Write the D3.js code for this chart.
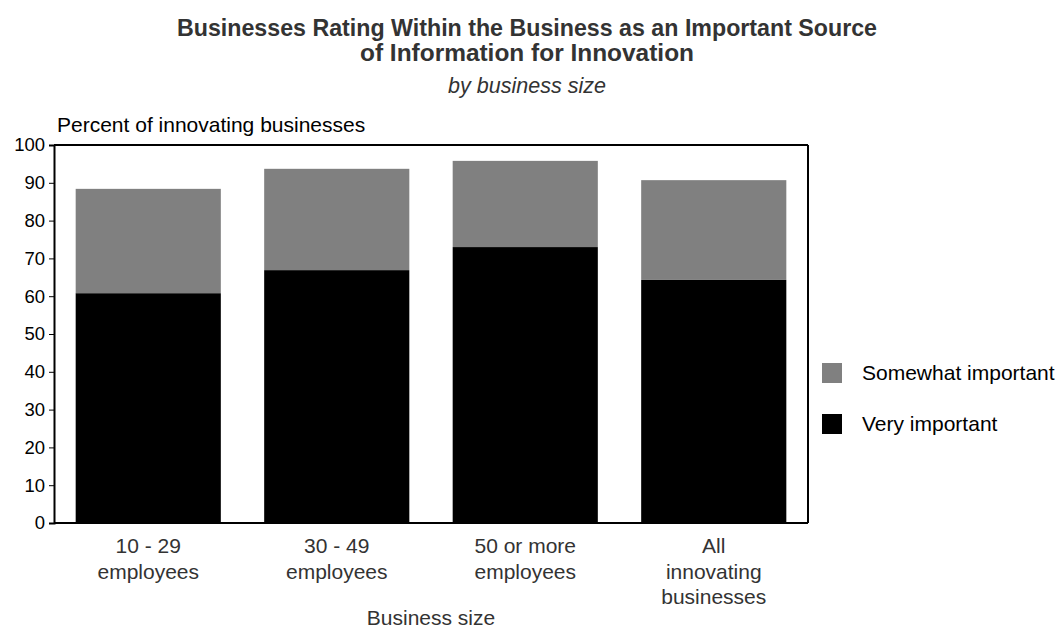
<!DOCTYPE html>
<html><head><meta charset="utf-8">
<script src="https://cdn.jsdelivr.net/npm/d3@7"></script>
<style>body{margin:0;background:#fff}svg{display:block}</style>
</head><body>
<script>
const categories = [["10 - 29","employees"],["30 - 49","employees"],["50 or more","employees"],["All","innovating","businesses"]];
const veryImportant = [60.8, 66.9, 73.0, 64.3];
const somewhatImportant = [27.6, 26.8, 22.8, 26.4];
const seriesNames = ["Somewhat important","Very important"];
const yTicks = [0,10,20,30,40,50,60,70,80,90,100];

const W=1064,H=630;
const m={l:54,r:256,t:145,b:107};
const svg=d3.select("body").append("svg").attr("width",W).attr("height",H);
const pw=W-m.l-m.r, ph=H-m.t-m.b;
const x=d3.scaleBand().domain(d3.range(categories.length)).range([m.l,m.l+pw]).paddingInner(0.23).paddingOuter(0.115);
const y=d3.scaleLinear().domain([0,100]).range([m.t+ph,m.t]);
const font="'Liberation Sans', Arial, sans-serif";

// titles
const tf="'Liberation Sans Narrow', 'Arial Narrow', 'Liberation Sans', sans-serif";
svg.append("text").attr("x",527).attr("y",36).attr("text-anchor","middle")
  .attr("font-family",tf).attr("font-weight","bold").attr("font-size",24).attr("fill","#333")
  .attr("textLength",700).attr("lengthAdjust","spacingAndGlyphs")
  .text("Businesses Rating Within the Business as an Important Source");
svg.append("text").attr("x",527).attr("y",61).attr("text-anchor","middle")
  .attr("font-family",tf).attr("font-weight","bold").attr("font-size",24).attr("fill","#333")
  .attr("textLength",334).attr("lengthAdjust","spacingAndGlyphs")
  .text("of Information for Innovation");
svg.append("text").attr("x",527).attr("y",93).attr("text-anchor","middle")
  .attr("font-family",tf).attr("font-style","italic").attr("font-size",22).attr("fill","#333")
  .attr("textLength",158).attr("lengthAdjust","spacingAndGlyphs")
  .text("by business size");

// bars
const g=svg.append("g");
veryImportant.forEach((v,i)=>{
  g.append("rect").attr("x",x(i)).attr("width",x.bandwidth()).attr("y",y(v)).attr("height",y(0)-y(v)).attr("fill","#000");
  const s=somewhatImportant[i];
  g.append("rect").attr("x",x(i)).attr("width",x.bandwidth()).attr("y",y(v+s)).attr("height",y(v)-y(v+s)).attr("fill","#808080");
});

// frame
svg.append("line").attr("x1",m.l).attr("x2",m.l+pw).attr("y1",m.t).attr("y2",m.t).attr("stroke","#000").attr("stroke-width",2);
svg.append("line").attr("x1",m.l+pw).attr("x2",m.l+pw).attr("y1",m.t).attr("y2",m.t+ph).attr("stroke","#000").attr("stroke-width",2);
svg.append("line").attr("x1",m.l).attr("x2",m.l+pw).attr("y1",m.t+ph).attr("y2",m.t+ph).attr("stroke","#000").attr("stroke-width",2);

// y axis
const ya=svg.append("g").attr("transform",`translate(${m.l},0)`)
  .call(d3.axisLeft(y).tickValues(yTicks).tickSize(5).tickPadding(4));
ya.select(".domain").attr("stroke","#000").attr("stroke-width",2);
ya.selectAll("text").attr("font-family",font).attr("font-size",18.5).attr("fill","#000");

svg.append("text").attr("x",57).attr("y",132).attr("font-family",font).attr("font-size",21).attr("fill","#000")
  .text("Percent of innovating businesses");

// x labels
categories.forEach((lines,i)=>{
  const t=svg.append("text").attr("text-anchor","middle").attr("font-family",font).attr("font-size",21).attr("fill","#333");
  lines.forEach((ln,j)=>t.append("tspan").attr("x",x(i)+x.bandwidth()/2).attr("y",553+j*25.5).text(ln));
});
svg.append("text").attr("x",m.l+pw/2).attr("y",625).attr("text-anchor","middle").attr("font-family",font).attr("font-size",21).attr("fill","#333").text("Business size");

// legend
const lc=["#808080","#000"];
seriesNames.forEach((n,i)=>{
  const ly=373+i*51;
  svg.append("rect").attr("x",822).attr("y",ly-10).attr("width",20).attr("height",20).attr("fill",lc[i]);
  svg.append("text").attr("x",862).attr("y",ly+7).attr("font-family",font).attr("font-size",21).attr("fill","#000").text(n);
});
</script>
</body></html>
